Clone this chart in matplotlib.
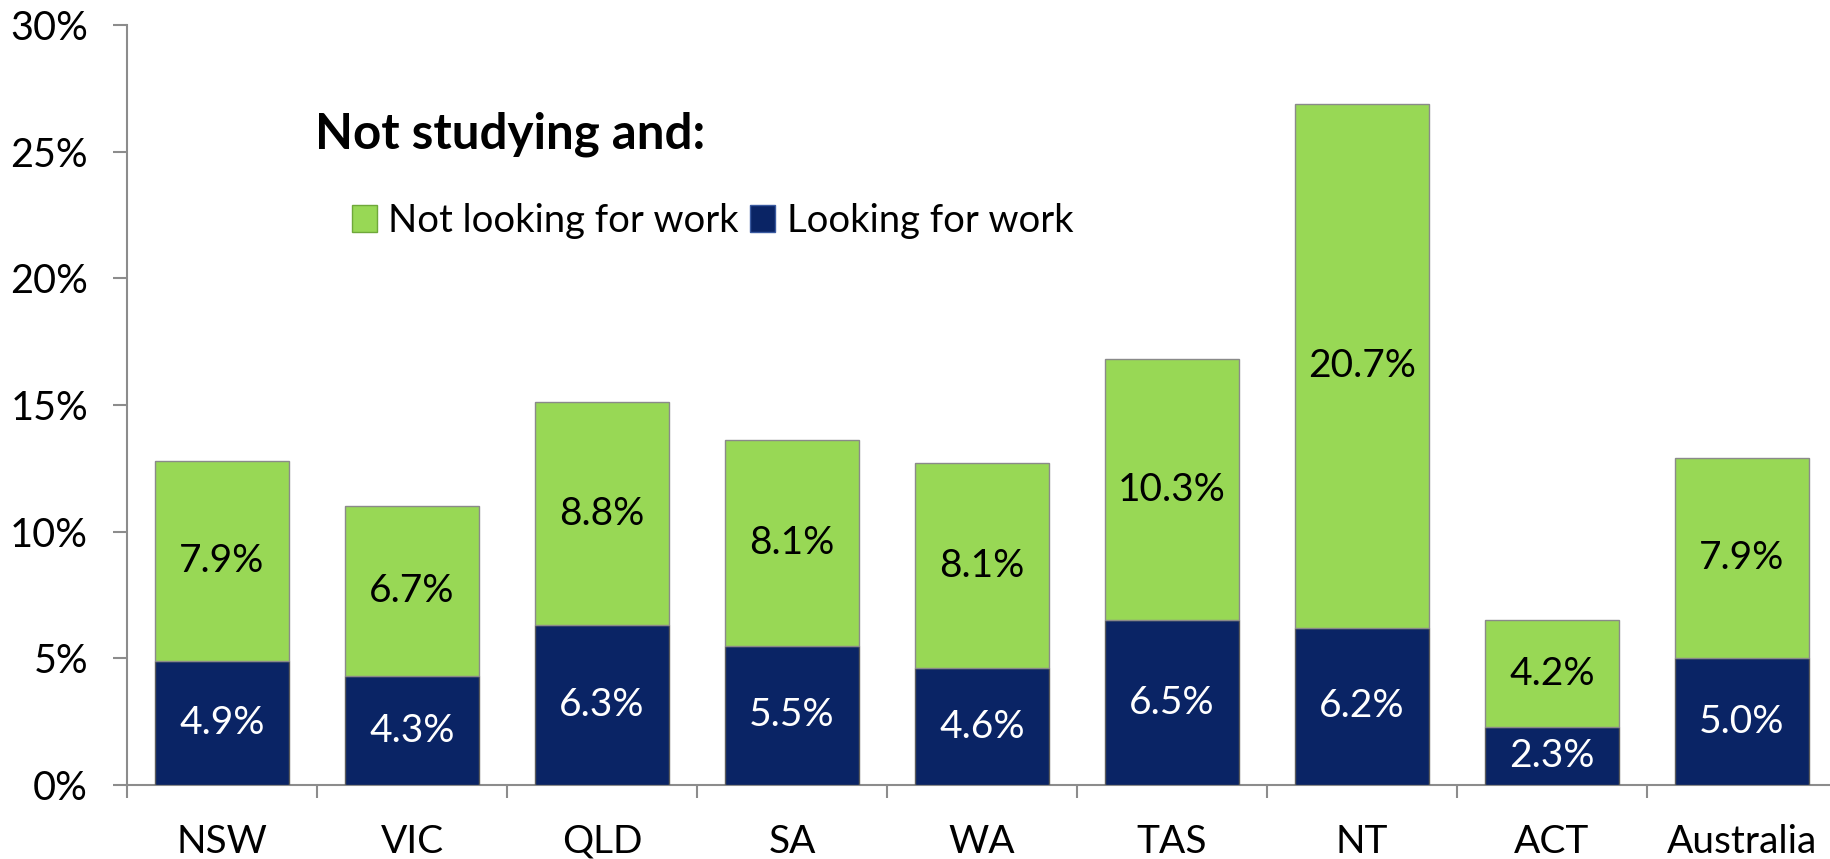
import matplotlib
matplotlib.use("Agg")
import matplotlib.pyplot as plt
import numpy as np
from matplotlib.patches import Patch

plt.rcParams['font.family'] = ['Lato', 'DejaVu Sans']

states = ["NSW", "VIC", "QLD", "SA", "WA", "TAS", "NT", "ACT", "Australia"]
looking = [4.9, 4.3, 6.3, 5.5, 4.6, 6.5, 6.2, 2.3, 5.0]
not_looking = [7.9, 6.7, 8.8, 8.1, 8.1, 10.3, 20.7, 4.2, 7.9]

GREEN = "#98D855"
NAVY = "#0A2465"

fig = plt.figure(figsize=(18.3, 8.59), dpi=100)
ax = fig.add_axes([127 / 1830, 1 - 785 / 859, 1710 / 1830, 760 / 859])

x = np.arange(len(states))
ax.bar(x, looking, width=0.705, color=NAVY, edgecolor="#5a5a5a", linewidth=1, zorder=3)
ax.bar(x, not_looking, width=0.705, bottom=looking, color=GREEN,
       edgecolor="#8a8a8a", linewidth=1, zorder=3)

for i in range(len(states)):
    ax.text(x[i], looking[i] / 2, f"{looking[i]:.1f}%", ha="center", va="center",
            color="white", fontsize=28, zorder=4)
    ax.text(x[i], looking[i] + not_looking[i] / 2, f"{not_looking[i]:.1f}%",
            ha="center", va="center", color="black", fontsize=28, zorder=4)

ax.set_xlim(-0.5, len(states) - 0.5)
ax.set_ylim(0, 30)
ax.set_yticks(range(0, 31, 5))
ax.set_yticklabels([f"{v}%" for v in range(0, 31, 5)], fontsize=28.5)
ax.set_xticks(x)
ax.set_xticklabels(states, fontsize=28)
ax.set_xticks(np.arange(-0.5, len(states), 1), minor=True)
ax.tick_params(axis="x", which="major", length=0, pad=28)
ax.tick_params(axis="x", which="minor", length=9.5, width=1.5, color="#8c8c8c", direction="out")
ax.tick_params(axis="y", length=10, width=1.5, color="#8c8c8c", pad=18)

for side in ["top", "right"]:
    ax.spines[side].set_visible(False)
for side in ["left", "bottom"]:
    ax.spines[side].set_color("#8c8c8c")
    ax.spines[side].set_linewidth(1.5)

fig.text(315 / 1830, 1 - 134 / 859, "Not studying and:", fontsize=35.5, fontweight="bold",
         ha="left", va="center")

handles = [Patch(facecolor=GREEN, edgecolor="#6fa83a", label="Not looking for work"),
           Patch(facecolor=NAVY, edgecolor="#3a5aa0", label="Looking for work")]
fig.legend(handles=handles, loc="center left", bbox_to_anchor=(352 / 1830, 1 - 221 / 859),
           ncol=2, frameon=False, fontsize=27.5, handlelength=0.65, handleheight=0.7,
           handletextpad=0.3, columnspacing=0.3, borderaxespad=0, borderpad=0)

fig.savefig("out.png", dpi=100)
